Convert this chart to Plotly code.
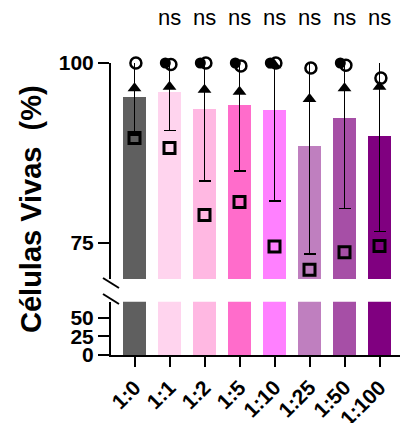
import plotly.graph_objects as go

# ---- data ----
categories = ["1:0", "1:1", "1:2", "1:5", "1:10", "1:25", "1:50", "1:100"]
mean_viable = [95.3, 96.0, 93.6, 94.1, 93.5, 88.5, 92.3, 89.9]
sd_viable = [5.3, 5.35, 10.0, 9.1, 12.7, 15.0, 12.5, 13.3]
rep_open_circle = [100, 99.8, 100, 99.6, 100, 99.3, 99.7, 97.9]
rep_filled_circle = [None, 100, 100, 100, 100, None, 100, None]
rep_triangle = [96.5, 96.7, 96.3, 96.0, 99.7, 95.0, 96.5, 96.7]
rep_square = [89.6, 88.2, 78.9, 80.7, 74.5, 71.3, 73.7, 74.6]
significance = ["", "ns", "ns", "ns", "ns", "ns", "ns", "ns"]
y_upper_ticks = [75, 100]
y_lower_ticks = [0, 25, 50]

# ---- style ----
bar_colors = ["#5f5f5f", "#ffd4ee", "#ffb8e2", "#ff6ccb",
              "#ff80ff", "#bf7fbf", "#a64fa6", "#800080"]
FONT = "Liberation Sans, Arial, sans-serif"
W, H = 400, 423
ML, MR, MT, MB = 111, 0, 63, 68
plot_h = H - MT - MB
upper_bottom = (355 - 279) / plot_h
lower_top = (355 - 301.7) / plot_h
FILLED_DX = -0.12
OPEN_DX = 0.04

xs = list(range(len(categories)))

fig = go.Figure()

# lower panel bars (broken part)
fig.add_trace(go.Bar(x=xs, y=mean_viable, marker=dict(color=bar_colors, line=dict(width=0)),
                     width=0.68, xaxis="x", yaxis="y", showlegend=False, hoverinfo="skip"))
# upper panel bars with SD
fig.add_trace(go.Bar(x=xs, y=mean_viable, marker=dict(color=bar_colors, line=dict(width=0)),
                     width=0.68, xaxis="x", yaxis="y2", showlegend=False,
                     error_y=dict(type="data", array=sd_viable, color="black",
                                  thickness=1.6, width=6)))

def pts(vals, dx, symbol, size, lw, name):
    fig.add_trace(go.Scatter(
        x=[i + dx for i in xs], y=vals, mode="markers", xaxis="x", yaxis="y2",
        cliponaxis=False, showlegend=False, name=name,
        marker=dict(symbol=symbol, size=size, color="black",
                    line=dict(color="black", width=lw))))

pts(rep_filled_circle, FILLED_DX, "circle", 11, 0, "rep2")
pts(rep_open_circle, OPEN_DX, "circle-open", 11, 2.5, "rep1")
pts(rep_triangle, 0, "triangle-up", 12, 0, "rep3")
pts(rep_square, 0, "square-open", 11, 3, "rep4")

axis_common = dict(showline=True, linecolor="black", linewidth=2, ticks="outside",
                   ticklen=11, tickwidth=2, tickcolor="black", showgrid=False,
                   zeroline=False, automargin=False,
                   tickfont=dict(family=FONT, size=21, color="black", weight="bold"))

step_px = 35
x_left = -(134.5 - ML) / step_px
x_right = x_left + (W - ML - MR) / step_px

fig.update_layout(
    width=W, height=H,
    margin=dict(l=ML, r=MR, t=MT, b=MB, autoexpand=False),
    paper_bgcolor="white", plot_bgcolor="white",
    bargap=0,
    xaxis=dict(range=[x_left, x_right], tickvals=xs, ticktext=categories,
               tickangle=-45, showline=True, linecolor="black", linewidth=2,
               ticks="outside", ticklen=10, tickwidth=2, tickcolor="black",
               showgrid=False, zeroline=False, anchor="y", automargin=False,
               tickfont=dict(family=FONT, size=21, color="black", weight="bold")),
    yaxis=dict(domain=[0, lower_top], range=[0, 71.3], tickvals=y_lower_ticks,
               anchor="x", **axis_common),
    yaxis2=dict(domain=[upper_bottom, 1], range=[70, 100], tickvals=y_upper_ticks,
                anchor="x", **axis_common),
)

# significance labels
for i, s in enumerate(significance):
    if s:
        fig.add_annotation(x=xs[i], y=1 + 45 / plot_h, xref="x", yref="paper",
                           text=s, showarrow=False, xanchor="center", yanchor="middle",
                           font=dict(family=FONT, size=22, color="black"))

# y-axis title
fig.add_annotation(x=-(111 - 31) / (W - ML - MR), y=0.5, xref="paper", yref="paper",
                   text="Células Vivas  (%)", textangle=-90, showarrow=False,
                   xanchor="center", yanchor="middle",
                   font=dict(family=FONT, size=29, color="black", weight="bold"))

# axis break marks
for anchor, dy in [(upper_bottom, -4), (lower_top, 2.7)]:
    fig.add_shape(type="line", xref="paper", yref="paper",
                  xsizemode="pixel", ysizemode="pixel",
                  xanchor=0, yanchor=anchor,
                  x0=-8, x1=8, y0=dy + 5, y1=dy - 5,
                  line=dict(color="black", width=2))

fig.write_html("out.html",
               config={"displayModeBar": False},
               post_script="document.body.style.margin='0';"
                           "document.body.style.overflow='hidden';")
